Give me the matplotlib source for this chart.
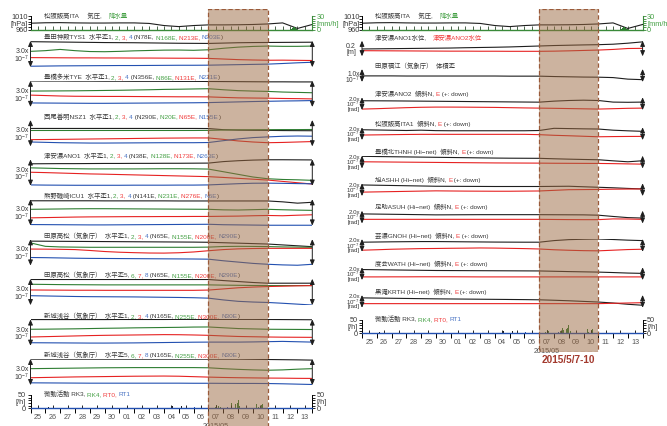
import numpy as np
import matplotlib
matplotlib.use('Agg')
import matplotlib.pyplot as plt

plt.rcParams['font.family'] = ['Liberation Sans', 'Noto Sans CJK JP', 'DejaVu Sans']
plt.rcParams['mathtext.fontset'] = 'custom'
plt.rcParams['mathtext.rm'] = 'Liberation Sans'
plt.rcParams['mathtext.it'] = 'Liberation Sans:italic'
plt.rcParams['mathtext.bf'] = 'Liberation Sans:bold'

# ---------------- DATA ----------------
sample_days = np.arange(20)          # days since 2015-04-25 00:00 (daily samples)
day_labels = ['25', '26', '27', '28', '29', '30', '01', '02', '03', '04',
              '05', '06', '07', '08', '09', '10', '11', '12', '13']
month_label = '2015/05'
event_label = '2015/5/7-10'
event_start, event_end = 12, 16

pressure = [983.8, 985.5, 986.0, 985.0, 984.5, 984.5, 985.0, 985.0, 983.0, 975.0,
            971.0, 975.0, 977.5, 977.5, 978.0, 979.0, 981.0, 985.0, 964.0, 979.0]
rain_days = [17.55, 17.65, 17.75, 17.85, 17.95]
rain_mm = [1.0, 3.0, 5.0, 4.0, 2.0]

tys1_1 = [2.90, 2.88, 2.86, 2.84, 2.82, 2.80, 2.79, 2.78, 2.76, 2.74, 2.72, 2.71, 2.70, 2.74, 2.78, 2.80, 2.81, 2.82, 2.83, 2.84]
tys1_2 = [1.80, 1.88, 2.02, 1.88, 1.78, 1.76, 1.80, 1.86, 1.90, 1.94, 1.95, 1.92, 1.98, 2.15, 2.28, 2.36, 2.40, 2.37, 2.37, 2.40]
tys1_3 = [1.09, 1.08, 1.07, 1.06, 1.06, 1.05, 1.05, 1.04, 1.04, 1.03, 1.02, 1.02, 1.00, 0.93, 0.86, 0.82, 0.79, 0.80, 0.78, 0.76]
tys1_4 = [0.11, 0.13, 0.15, 0.16, 0.17, 0.18, 0.19, 0.19, 0.20, 0.21, 0.22, 0.22, 0.23, 0.26, 0.29, 0.32, 0.35, 0.42, 0.50, 0.56]

tye_1 = [2.96, 2.95, 2.95, 2.94, 2.94, 2.93, 2.93, 2.92, 2.92, 2.92, 2.91, 2.91, 2.90, 2.89, 2.88, 2.87, 2.86, 2.86, 2.85, 2.85]
tye_2 = [1.81, 1.82, 1.83, 1.84, 1.86, 1.88, 1.90, 1.93, 1.96, 2.00, 2.02, 2.05, 2.08, 1.96, 1.86, 1.81, 1.77, 1.70, 1.66, 1.62]
tye_3 = [1.35, 1.30, 1.25, 1.22, 1.21, 1.20, 1.20, 1.19, 1.18, 1.17, 1.16, 1.16, 1.15, 1.09, 1.04, 1.02, 1.00, 0.97, 0.95, 0.92]
tye_4 = [0.46, 0.45, 0.44, 0.43, 0.42, 0.42, 0.43, 0.44, 0.45, 0.46, 0.47, 0.48, 0.50, 0.54, 0.58, 0.62, 0.65, 0.68, 0.70, 0.73]

nsz1_1 = [2.04, 2.04, 2.04, 2.04, 2.04, 2.04, 2.04, 2.04, 2.04, 2.04, 2.04, 2.04, 2.03, 1.90, 1.85, 1.83, 1.82, 1.80, 1.79, 1.78]
nsz1_2 = [1.81, 1.81, 1.81, 1.81, 1.81, 1.81, 1.81, 1.81, 1.81, 1.81, 1.81, 1.81, 1.82, 1.86, 1.88, 1.89, 1.90, 1.91, 1.91, 1.92]
nsz1_3 = [0.77, 0.78, 0.80, 0.82, 0.84, 0.86, 0.88, 0.90, 0.92, 0.94, 0.95, 0.96, 0.96, 0.80, 0.62, 0.50, 0.42, 0.45, 0.50, 0.55]
nsz1_4 = [0.50, 0.46, 0.42, 0.40, 0.38, 0.38, 0.39, 0.40, 0.41, 0.42, 0.42, 0.42, 0.44, 0.65, 0.85, 1.00, 1.08, 1.15, 1.18, 1.16]

ano1_1 = [2.50, 2.51, 2.52, 2.52, 2.53, 2.54, 2.54, 2.55, 2.55, 2.56, 2.56, 2.57, 2.58, 2.75, 2.85, 2.92, 2.96, 2.96, 2.95, 2.94]
ano1_2 = [2.04, 2.00, 1.96, 1.94, 1.92, 1.92, 1.92, 1.92, 1.93, 1.94, 1.94, 1.93, 1.90, 1.60, 1.30, 1.00, 0.80, 0.72, 0.68, 0.62]
ano1_3 = [1.54, 1.50, 1.45, 1.40, 1.35, 1.32, 1.28, 1.24, 1.20, 1.16, 1.12, 1.08, 1.04, 0.95, 0.85, 0.75, 0.65, 0.50, 0.35, 0.20]
ano1_4 = [0.10, 0.08, 0.07, 0.06, 0.06, 0.06, 0.06, 0.07, 0.07, 0.07, 0.08, 0.08, 0.10, 0.17, 0.24, 0.29, 0.30, 0.28, 0.25, 0.23]

icu1_1 = [2.82, 2.82, 2.82, 2.82, 2.82, 2.81, 2.81, 2.81, 2.81, 2.81, 2.80, 2.80, 2.80, 2.80, 2.80, 2.80, 2.80, 2.70, 2.55, 2.65]
icu1_2 = [1.85, 1.87, 1.89, 1.91, 1.92, 1.92, 1.91, 1.90, 1.89, 1.88, 1.87, 1.86, 1.85, 1.79, 1.77, 1.81, 1.85, 1.80, 1.76, 1.73]
icu1_3 = [0.88, 0.91, 0.94, 0.97, 0.99, 1.00, 1.01, 1.02, 1.02, 1.03, 1.03, 1.04, 1.04, 1.06, 1.08, 1.12, 1.15, 1.12, 1.18, 1.23]
icu1_4 = [0.12, 0.11, 0.10, 0.09, 0.08, 0.08, 0.09, 0.10, 0.11, 0.12, 0.13, 0.14, 0.15, 0.10, 0.08, 0.06, 0.04, 0.04, 0.04, 0.04]

tah1_1 = [2.78, 2.77, 2.76, 2.75, 2.74, 2.73, 2.72, 2.71, 2.70, 2.69, 2.68, 2.67, 2.65, 2.60, 2.55, 2.50, 2.45, 2.35, 2.25, 2.15]
tah1_2 = [2.58, 2.19, 2.12, 2.10, 2.08, 2.08, 2.08, 2.08, 2.08, 2.08, 2.08, 2.08, 2.10, 2.17, 2.19, 2.18, 2.16, 2.12, 2.10, 2.08]
tah1_3 = [1.88, 1.87, 1.85, 1.82, 1.72, 1.60, 1.52, 1.47, 1.43, 1.42, 1.46, 1.55, 1.69, 1.82, 1.90, 1.94, 1.96, 1.96, 1.96, 1.96]
tah1_4 = [0.92, 0.90, 0.87, 0.84, 0.82, 0.81, 0.80, 0.79, 0.78, 0.77, 0.76, 0.75, 0.73, 0.55, 0.40, 0.25, 0.15, 0.08, 0.04, 0.15]

tah5_1 = [2.92, 2.92, 2.92, 2.92, 2.92, 2.92, 2.92, 2.92, 2.92, 2.92, 2.92, 2.92, 2.92, 2.80, 2.69, 2.58, 2.50, 2.50, 2.50, 2.50]
tah5_2 = [2.38, 2.36, 2.34, 2.33, 2.32, 2.31, 2.31, 2.31, 2.31, 2.31, 2.31, 2.31, 2.31, 2.28, 2.26, 2.24, 2.23, 2.23, 2.23, 2.23]
tah5_3 = [1.73, 1.72, 1.71, 1.70, 1.70, 1.69, 1.69, 1.69, 1.69, 1.69, 1.69, 1.69, 1.72, 1.85, 1.98, 2.06, 2.12, 2.16, 2.20, 2.23]
tah5_4 = [1.08, 1.05, 1.02, 0.99, 0.97, 0.96, 0.95, 0.94, 0.92, 0.90, 0.88, 0.85, 0.80, 0.60, 0.44, 0.36, 0.31, 0.22, 0.12, 0.02]

shn1_1 = [2.98, 2.98, 2.98, 2.98, 2.98, 2.98, 2.99, 2.99, 2.99, 2.99, 3.00, 3.00, 3.00, 3.00, 3.00, 3.00, 2.99, 2.98, 2.97, 2.96]
shn1_2 = [1.88, 1.89, 1.91, 1.93, 1.96, 1.99, 2.01, 2.04, 2.06, 2.08, 2.10, 2.13, 2.14, 2.05, 1.96, 1.92, 1.88, 1.87, 1.86, 1.85]
shn1_3 = [1.00, 1.04, 1.08, 1.12, 1.16, 1.19, 1.21, 1.23, 1.25, 1.27, 1.26, 1.23, 1.19, 1.12, 1.06, 1.03, 1.00, 0.98, 0.97, 0.96]
shn1_4 = [0.35, 0.34, 0.33, 0.32, 0.31, 0.31, 0.32, 0.33, 0.35, 0.37, 0.39, 0.41, 0.42, 0.42, 0.42, 0.44, 0.47, 0.50, 0.46, 0.42]

shn5_1 = [2.96, 2.96, 2.96, 2.96, 2.96, 2.96, 2.96, 2.96, 2.96, 2.96, 2.96, 2.96, 2.96, 2.96, 2.96, 2.94, 2.92, 2.90, 2.88, 2.85]
shn5_2 = [1.88, 1.90, 1.92, 1.94, 1.96, 1.98, 1.99, 2.00, 2.00, 2.00, 2.00, 2.00, 1.98, 1.88, 1.80, 1.74, 1.70, 1.74, 1.82, 1.88]
shn5_3 = [0.85, 0.88, 0.91, 0.94, 0.96, 0.98, 1.00, 1.02, 1.03, 1.04, 1.02, 0.97, 0.92, 0.88, 0.85, 0.83, 0.81, 0.80, 0.78, 0.77]
shn5_4 = [0.27, 0.26, 0.25, 0.24, 0.23, 0.23, 0.23, 0.23, 0.23, 0.23, 0.23, 0.22, 0.22, 0.21, 0.20, 0.20, 0.19, 0.16, 0.12, 0.08]

ano1_level = [0.094, 0.096, 0.098, 0.100, 0.102, 0.104, 0.106, 0.110, 0.113, 0.116, 0.120, 0.126, 0.132, 0.138, 0.142, 0.146, 0.149, 0.155, 0.168, 0.185]
ano2_level = [0.072, 0.071, 0.070, 0.069, 0.068, 0.067, 0.066, 0.066, 0.065, 0.065, 0.064, 0.064, 0.064, 0.066, 0.070, 0.075, 0.080, 0.088, 0.100, 0.102]
fukue_vol = [0.47, 0.47, 0.47, 0.46, 0.46, 0.46, 0.46, 0.46, 0.46, 0.46, 0.45, 0.45, 0.45, 0.42, 0.40, 0.38, 0.37, 0.34, 0.22, 0.18]

ano2_n = [1.46, 1.45, 1.44, 1.42, 1.40, 1.38, 1.36, 1.34, 1.32, 1.30, 1.28, 1.26, 1.24, 1.40, 1.50, 1.55, 1.50, 1.25, 1.22, 1.25]
ano2_e = [0.16, 0.22, 0.30, 0.38, 0.44, 0.47, 0.47, 0.46, 0.44, 0.42, 0.38, 0.34, 0.31, 0.28, 0.24, 0.20, 0.16, 0.22, 0.28, 0.31]
ita1_n = [1.62, 1.58, 1.54, 1.50, 1.55, 1.48, 1.46, 1.46, 1.46, 1.46, 1.46, 1.46, 1.50, 1.84, 1.80, 1.76, 1.73, 1.55, 1.45, 1.37]
ita1_e = [0.79, 0.82, 0.85, 0.88, 0.90, 0.90, 0.90, 0.90, 0.90, 0.90, 0.90, 0.90, 0.85, 0.75, 0.68, 0.60, 0.52, 0.55, 0.57, 0.58]
thnh_n = [1.90, 1.87, 1.84, 1.81, 1.78, 1.75, 1.72, 1.69, 1.66, 1.63, 1.61, 1.60, 1.59, 1.52, 1.46, 1.41, 1.37, 1.20, 1.05, 1.21]
thnh_e = [1.05, 1.03, 1.01, 0.99, 0.97, 0.95, 0.93, 0.91, 0.89, 0.87, 0.86, 0.85, 0.84, 0.82, 0.81, 0.80, 0.79, 0.76, 0.72, 0.68]
ashh_n = [1.74, 1.70, 1.66, 1.62, 1.58, 1.54, 1.53, 1.52, 1.51, 1.50, 1.50, 1.50, 1.50, 1.52, 1.54, 1.46, 1.38, 1.30, 1.20, 1.12]
ashh_e = [0.62, 0.66, 0.70, 0.74, 0.78, 0.82, 0.80, 0.78, 0.77, 0.76, 0.76, 0.78, 0.80, 0.90, 1.00, 1.02, 1.04, 1.08, 1.10, 1.12]
asuh_n = [1.50, 1.47, 1.44, 1.41, 1.38, 1.35, 1.36, 1.37, 1.38, 1.38, 1.38, 1.38, 1.38, 1.37, 1.36, 1.35, 1.30, 1.10, 0.92, 0.85]
asuh_e = [0.65, 0.65, 0.65, 0.65, 0.65, 0.65, 0.65, 0.65, 0.65, 0.65, 0.65, 0.65, 0.65, 0.63, 0.61, 0.60, 0.60, 0.72, 0.70, 0.65]
gnoh_n = [1.50, 1.53, 1.56, 1.58, 1.60, 1.60, 1.58, 1.56, 1.54, 1.52, 1.51, 1.50, 1.50, 1.75, 1.90, 1.96, 2.00, 1.92, 1.82, 1.75]
gnoh_e = [0.25, 0.32, 0.40, 0.45, 0.50, 0.52, 0.55, 0.57, 0.60, 0.58, 0.54, 0.50, 0.44, 0.32, 0.24, 0.18, 0.15, 0.25, 0.35, 0.40]
wath_n = [1.65, 1.62, 1.59, 1.56, 1.53, 1.50, 1.49, 1.48, 1.47, 1.46, 1.45, 1.44, 1.43, 1.38, 1.33, 1.29, 1.25, 1.18, 1.10, 1.05]
wath_e = [0.50, 0.50, 0.51, 0.51, 0.52, 0.52, 0.52, 0.51, 0.50, 0.50, 0.50, 0.50, 0.50, 0.50, 0.50, 0.50, 0.50, 0.50, 0.50, 0.50]
krth_n = [1.55, 1.52, 1.49, 1.46, 1.43, 1.40, 1.38, 1.36, 1.34, 1.32, 1.30, 1.28, 1.25, 1.18, 1.10, 1.00, 0.90, 0.75, 0.55, 0.40]
krth_e = [0.65, 0.65, 0.65, 0.65, 0.65, 0.65, 0.65, 0.65, 0.65, 0.65, 0.65, 0.65, 0.65, 0.65, 0.65, 0.65, 0.65, 0.70, 0.75, 0.80]

rk3_days = [1.2, 9.6, 10.2]
rk3_counts = [6, 10, 10]
rk4_days = [12.45, 12.55, 12.65, 12.8, 13.45, 13.55, 13.65, 13.85, 13.93, 14.0, 14.1, 15.25, 15.35, 15.55, 15.62]
rk4_counts = [6, 12, 10, 4, 8, 20, 14, 16, 19, 31, 8, 16, 6, 14, 16]
rt1_days = [11.05, 13.3]
rt1_counts = [5, 4]

# ---------------- STYLE ----------------
C_K, C_G, C_R, C_B = '#1e1e1e', '#2e7d32', '#e62222', '#2350b0'
T_K, T_G, T_R, T_B = '#3a3a3a', '#45a045', '#f03c3c', '#4a74c4'
T_D = '#555555'
C_AXG = '#3a8a3a'
LW = 0.8
TS = 4.6

W, H = 667, 427
fig = plt.figure(figsize=(W / 100, H / 100), dpi=100)


def add_px(x0, top, w, h):
    a = fig.add_axes([x0 / W, 1 - (top + h) / H, w / W, h / H])
    a.set_facecolor('none')
    return a


bg = fig.add_axes([0, 0, 1, 1])
bg.set_xlim(0, W)
bg.set_ylim(H, 0)
bg.axis('off')


def title(x, y, segs, size=TS):
    t = bg.text(x, y, segs[0][0], color=segs[0][1], fontsize=size, va='center', ha='left')
    for s, c in segs[1:]:
        t = bg.annotate(s, xy=(1, 0), xycoords=t, va='bottom', ha='left', color=c, fontsize=size)


def label(x, y, s, ha='right', size=5.0, color=T_K):
    bg.text(x, y, s, ha=ha, va='center', fontsize=size, color=color)


def arrows(ax, ymax):
    for xa in (0, 19):
        ax.annotate('', xy=(xa, ymax), xytext=(xa, 0), annotation_clip=False,
                    arrowprops=dict(arrowstyle='<|-|>,head_length=0.4,head_width=0.17',
                                    lw=0.7, color=C_K, shrinkA=0, shrinkB=0, mutation_scale=8))


def day_ticks(ax, labels=True):
    ax.set_xlim(0, 19)
    ax.set_xticks(np.arange(19) + 0.5)
    ax.set_xticks(sample_days, minor=True)
    if labels:
        ax.set_xticklabels(day_labels)
        ax.tick_params(axis='x', which='major', direction='in', length=2, width=0.6,
                       pad=3.5, labelsize=5.2, labelcolor=T_D)
        ax.tick_params(axis='x', which='minor', direction='out', length=3.5, width=0.7)
    else:
        ax.set_xticklabels([])
        ax.tick_params(axis='x', which='both', direction='in', length=3, width=0.6, color='#2d4a2d')


def pressure_panel(x0, x1):
    ax = add_px(x0, 17.3, x1 - x0, 13.2)
    ax.plot(sample_days, pressure, color=C_K, lw=LW)
    ax.set_ylim(960, 1010)
    day_ticks(ax, labels=False)
    ax.spines['top'].set_visible(False)
    ax.spines['right'].set_visible(False)
    ax.spines['bottom'].set_color(C_AXG)
    ax.spines['bottom'].set_linewidth(1.0)
    ax.spines['left'].set_linewidth(0.7)
    ax.set_yticks([960, 1010])
    ax.set_yticks([970, 980, 990, 1000], minor=True)
    ax.set_yticklabels([])
    ax.tick_params(axis='y', which='both', direction='out', length=2.5, width=0.6)
    tw = ax.twinx()
    tw.set_facecolor('none')
    tw.bar(rain_days, rain_mm, width=0.1, color=C_G, align='center')
    tw.set_ylim(0, 30)
    for s in ('top', 'left', 'bottom'):
        tw.spines[s].set_visible(False)
    tw.spines['right'].set_color(C_AXG)
    tw.spines['right'].set_linewidth(0.8)
    tw.set_yticks([0, 30])
    tw.set_yticks([5, 10, 15, 20, 25], minor=True)
    tw.set_yticklabels([])
    tw.tick_params(axis='y', which='both', direction='out', length=2.5, width=0.6, color=C_AXG)
    label(x0 - 2.5, 17.3, '1010', size=5.3)
    label(x0 - 2.5, 24.0, '[hPa]', size=5.3)
    label(x0 - 2.5, 30.5, '960', size=5.3)
    label(x1 + 4.5, 17.3, '30', ha='left', size=5.3, color=T_G)
    label(x1 + 4.5, 24.0, '[mm/h]', ha='left', size=5.3, color=T_G)
    label(x1 + 4.5, 30.5, '0', ha='left', size=5.3, color=T_G)
    title(x0 + 13, 15.3, [('松阪飯高ITA     気圧,    ', T_K), ('降水量', T_G)])


def tremor_panel(x0, x1, top):
    ax = add_px(x0, top, x1 - x0, 13.3)
    ax.bar(rk3_days, rk3_counts, width=0.06, color=C_K)
    ax.bar(rk4_days, rk4_counts, width=0.06, color=C_G)
    ax.bar(rt1_days, rt1_counts, width=0.06, color=C_B)
    ax.set_ylim(0, 50)
    day_ticks(ax, labels=True)
    ax.spines['top'].set_visible(False)
    ax.spines['bottom'].set_color(C_B)
    ax.spines['bottom'].set_linewidth(1.0)
    for s in ('left', 'right'):
        ax.spines[s].set_linewidth(0.7)
    ax.set_yticks([0, 50])
    ax.set_yticks([10, 20, 30, 40], minor=True)
    ax.set_yticklabels([])
    ax.tick_params(axis='y', which='both', left=True, right=True, direction='out', length=2.5, width=0.6)
    ax.annotate(month_label, xy=(12.5, 0), xycoords=('data', 'axes fraction'),
                xytext=(0, -12.7), textcoords='offset points', ha='center', va='center',
                fontsize=5.2, color=T_D, annotation_clip=False)
    y0 = top + 13.3
    label(x0 - 4.5, top, '50', size=5.3)
    label(x0 - 4.5, top + 6.5, '[/h]', size=5.3)
    label(x0 - 4.5, y0, '0', size=5.3)
    label(x1 + 4.5, top, '50', ha='left', size=5.3)
    label(x1 + 4.5, top + 6.5, '[/h]', ha='left', size=5.3)
    label(x1 + 4.5, y0, '0', ha='left', size=5.3)
    title(x0 + 13, top - 2, [('微動活動 RK3, ', T_K), ('RK4, ', T_G), ('RT0, ', T_R), ('RT1', T_B)])
    return ax


def shade(x0, x1, top, bottom, with_label):
    ov = add_px(x0, top, x1 - x0, bottom - top)
    ov.set_xlim(0, 19)
    ov.set_ylim(0, 1)
    ov.axis('off')
    ov.axvspan(event_start, event_end, facecolor=(155 / 255, 105 / 255, 65 / 255), alpha=0.5, lw=0)
    ov.axvspan(event_start, event_end, fill=False, edgecolor='#9a5a3a', lw=0.9,
               linestyle=(0, (3.5, 2.0)))
    if with_label:
        ov.annotate(event_label, xy=((event_start + event_end) / 2, 0),
                    xycoords=('data', 'axes fraction'), xytext=(0, -5.2), textcoords='offset points',
                    ha='center', va='center', fontsize=7.2, fontweight='bold', color='#a33a2e',
                    annotation_clip=False)


# ---------------- LEFT COLUMN ----------------
LX0, LX1 = 30.5, 312.3
RX0, RX1 = 362.0, 642.6

pressure_panel(LX0, LX1)

left_strain = [
    ('豊田神殿TYS1', ['1', '2', '3', '4'], ['N78E', 'N168E', 'N213E', 'N303E'], [tys1_1, tys1_2, tys1_3, tys1_4]),
    ('豊橋多米TYE', ['1', '2', '3', '4'], ['N356E', 'N86E', 'N131E', 'N221E'], [tye_1, tye_2, tye_3, tye_4]),
    ('西尾善明NSZ1', ['1', '2', '3', '4'], ['N290E', 'N20E', 'N65E', 'N155E'], [nsz1_1, nsz1_2, nsz1_3, nsz1_4]),
    ('津安濃ANO1', ['1', '2', '3', '4'], ['N38E', 'N128E', 'N173E', 'N263E'], [ano1_1, ano1_2, ano1_3, ano1_4]),
    ('熊野磯崎ICU1', ['1', '2', '3', '4'], ['N141E', 'N231E', 'N276E', 'N6E'], [icu1_1, icu1_2, icu1_3, icu1_4]),
    ('田原高松（気象庁）', ['1', '2', '3', '4'], ['N65E', 'N155E', 'N200E', 'N290E'], [tah1_1, tah1_2, tah1_3, tah1_4]),
    ('田原高松（気象庁）', ['5', '6', '7', '8'], ['N65E', 'N155E', 'N200E', 'N290E'], [tah5_1, tah5_2, tah5_3, tah5_4]),
    ('新城浅谷（気象庁）', ['1', '2', '3', '4'], ['N165E', 'N255E', 'N300E', 'N30E'], [shn1_1, shn1_2, shn1_3, shn1_4]),
    ('新城浅谷（気象庁）', ['5', '6', '7', '8'], ['N165E', 'N255E', 'N300E', 'N30E'], [shn5_1, shn5_2, shn5_3, shn5_4]),
]
strain_tops = [41.8, 81.6, 121.0, 160.4, 200.2, 240.2, 279.8, 320.4, 359.8]
SH = 26.4
line_cols = [C_K, C_G, C_R, C_B]
for (name, nums, dirs, series), top in zip(left_strain, strain_tops):
    ax = add_px(LX0, top, LX1 - LX0, SH)
    ax.set_xlim(0, 19)
    ax.set_ylim(0, 3.0)
    ax.axis('off')
    for vals, c in zip(series, line_cols):
        ax.plot(sample_days, vals, color=c, lw=LW)
    arrows(ax, 3.0)
    title(LX0 + 13, top - 4.7,
          [(name + '  水平歪' + nums[0] + ', ', T_K), (nums[1] + ', ', T_G), (nums[2] + ', ', T_R),
           (nums[3], T_B), (' (' + dirs[0] + ', ', T_K), (dirs[1] + ', ', T_G), (dirs[2] + ', ', T_R),
           (dirs[3], T_B), (')', T_K)])
    label(LX0 - 1.5, top + 9.7, '3.0x')
    label(LX0 - 1.5, top + 17.3, r'$10^{-7}$')

tremor_panel(LX0, LX1, 396.0)

# ---------------- RIGHT COLUMN ----------------
pressure_panel(RX0, RX1)

ax = add_px(RX0, 41.7, RX1 - RX0, 15.6)
ax.set_xlim(0, 19)
ax.set_ylim(0, 0.2)
ax.axis('off')
ax.plot(sample_days, ano1_level, color=C_K, lw=LW)
ax.plot(sample_days, ano2_level, color=C_R, lw=LW)
arrows(ax, 0.2)
title(RX0 + 13, 37.7, [('津安濃ANO1水位,    ', T_K), ('津安濃ANO2水位', T_R)])
label(RX0 - 6, 46.3, '0.2')
label(RX0 - 6, 52.7, '[m]')

ax = add_px(RX0, 70.0, RX1 - RX0, 13.0)
ax.set_xlim(0, 19)
ax.set_ylim(0, 1.0)
ax.axis('off')
ax.plot(sample_days, fukue_vol, color=C_K, lw=LW)
arrows(ax, 1.0)
title(RX0 + 13, 65.3, [('田原福江（気象庁）  体積歪', T_K)])
label(RX0 - 2, 74.0, '1.0x', size=4.8)
label(RX0 - 2, 80.0, r'$10^{-7}$', size=4.8)

tilt = [
    ('津安濃ANO2  傾斜N, ', ano2_n, ano2_e),
    ('松阪飯高ITA1  傾斜N, ', ita1_n, ita1_e),
    ('豊橋北THNH (Hi−net)  傾斜N, ', thnh_n, thnh_e),
    ('旭ASHH (Hi−net)  傾斜N, ', ashh_n, ashh_e),
    ('足助ASUH (Hi−net)  傾斜N, ', asuh_n, asuh_e),
    ('芸濃GNOH (Hi−net)  傾斜N, ', gnoh_n, gnoh_e),
    ('度会WATH (Hi−net)  傾斜N, ', wath_n, wath_e),
    ('黒滝KRTH (Hi−net)  傾斜N, ', krth_n, krth_e),
]
tilt_tops = [98.3, 128.3, 156.7, 184.3, 211.7, 240.0, 268.3, 296.0]
TH = 12.8
for (name, n, e), top in zip(tilt, tilt_tops):
    ax = add_px(RX0, top, RX1 - RX0, TH)
    ax.set_xlim(0, 19)
    ax.set_ylim(0, 2.0)
    ax.axis('off')
    ax.plot(sample_days, n, color=C_K, lw=LW)
    ax.plot(sample_days, e, color=C_R, lw=LW)
    arrows(ax, 2.0)
    title(RX0 + 13, top - 4.5, [(name, T_K), ('E', T_R), (' (+: down)', T_K)])
    label(RX0 - 2, top + 1.0, '2.0x', size=4.4)
    label(RX0 - 2, top + 5.9, r'$10^{-7}$', size=4.4)
    label(RX0 - 2, top + 11.0, '[rad]', size=4.4)

tremor_panel(RX0, RX1, 321.0)

# ---------------- EVENT SHADING ----------------
shade(LX0, LX1, 10.0, 440.0, False)
shade(RX0, RX1, 10.0, 352.8, True)

fig.savefig('out.png', dpi=100)
